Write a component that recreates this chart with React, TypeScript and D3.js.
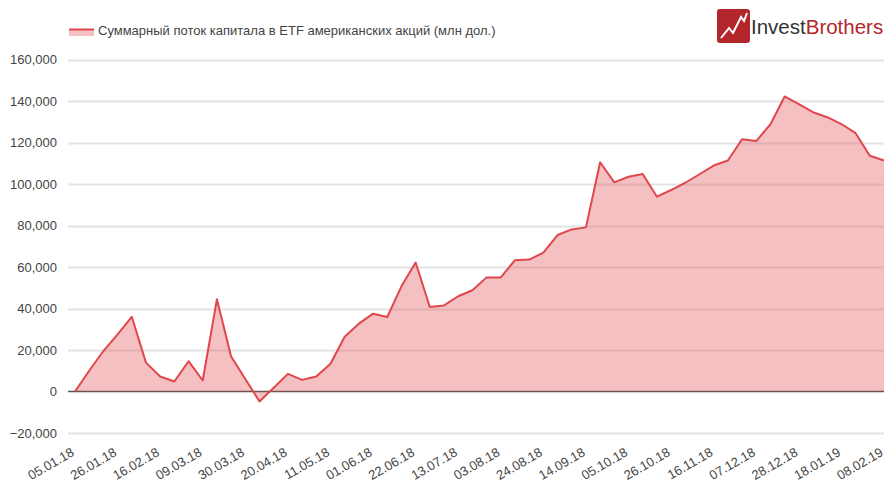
import { useEffect, useRef } from 'react';
import * as d3 from 'd3';

// weekly cumulative flows, 05.01.18 .. 08.02.19
const flows = [
  0, 10000, 19500, 27500, 36000, 13900, 7200, 4800, 14600, 5300,
  44500, 16900, 6000, -4800, 1800, 8500, 5600, 7200, 13400, 26400,
  32700, 37500, 35900, 50700, 62200, 40700, 41500, 45900, 48800, 55000,
  55000, 63300, 63600, 66900, 75400, 78100, 79100, 110500, 100800, 103500,
  104800, 93900, 97100, 100600, 104700, 108900, 111300, 121600, 120700, 128800,
  142200, 138500, 134600, 132200, 128900, 124500, 113600, 111300,
];

// one label every third week
const tickLabels = [
  '05.01.18', '26.01.18', '16.02.18', '09.03.18', '30.03.18', '20.04.18',
  '11.05.18', '01.06.18', '22.06.18', '13.07.18', '03.08.18', '24.08.18',
  '14.09.18', '05.10.18', '26.10.18', '16.11.18', '07.12.18', '28.12.18',
  '18.01.19', '08.02.19',
];

const yTicks = [-20000, 0, 20000, 40000, 60000, 80000, 100000, 120000, 140000, 160000];

const seriesName = 'Суммарный поток капитала в ETF американских акций (млн дол.)';

const W = 888;
const H = 483;
const FONT = 'Arial, "Liberation Sans", sans-serif';

export default function App() {
  const svgRef = useRef<SVGSVGElement>(null);

  useEffect(() => {
    if (!svgRef.current) return;
    const svg = d3.select(svgRef.current);
    svg.selectAll('*').remove();

    const x = d3.scaleLinear().domain([0, flows.length - 1]).range([75, 884]);
    const y = d3.scaleLinear().domain([-20000, 160000]).range([433, 59.5]);

    // grid
    svg.append('g')
      .selectAll('line')
      .data(yTicks)
      .enter()
      .append('line')
      .attr('x1', 68)
      .attr('x2', 884)
      .attr('y1', d => Math.round(y(d)) + 0.5)
      .attr('y2', d => Math.round(y(d)) + 0.5)
      .attr('stroke', d => (d === 0 ? '#555' : '#e3e3e3'))
      .attr('stroke-width', d => (d === 0 ? 1.3 : 2));

    // y labels
    svg.append('g')
      .selectAll('text')
      .data(yTicks)
      .enter()
      .append('text')
      .attr('x', 57)
      .attr('y', d => y(d) + 4.5)
      .attr('text-anchor', 'end')
      .style('font-family', FONT)
      .style('font-size', '13px')
      .style('fill', '#444')
      .text(d => d3.format(',')(d));

    // area + line
    const area = d3.area<number>()
      .x((_, i) => x(i))
      .y0(y(0))
      .y1(d => y(d));
    const line = d3.line<number>()
      .x((_, i) => x(i))
      .y(d => y(d));

    svg.append('path')
      .datum(flows)
      .attr('d', area)
      .attr('fill', '#e04a4f')
      .attr('fill-opacity', 0.35);

    svg.append('path')
      .datum(flows)
      .attr('d', line)
      .attr('fill', 'none')
      .attr('stroke', '#e0474c')
      .attr('stroke-width', 2)
      .attr('stroke-linejoin', 'round');

    // x labels
    svg.append('g')
      .selectAll('text')
      .data(tickLabels)
      .enter()
      .append('text')
      .attr('transform', (_, i) => `translate(${x(i * 3)},455) rotate(-30)`)
      .attr('text-anchor', 'end')
      .style('font-family', FONT)
      .style('font-size', '13px')
      .style('fill', '#444')
      .text(d => d);

    // legend
    const lg = svg.append('g');
    lg.append('rect')
      .attr('x', 69).attr('y', 29).attr('width', 25).attr('height', 7)
      .attr('fill', '#e04a4f').attr('fill-opacity', 0.35);
    lg.append('line')
      .attr('x1', 69).attr('x2', 94).attr('y1', 29.5).attr('y2', 29.5)
      .attr('stroke', '#e0474c').attr('stroke-width', 2);
    lg.append('text')
      .attr('x', 98).attr('y', 35)
      .style('font-family', FONT)
      .style('font-size', '13px')
      .style('fill', '#444')
      .text(seriesName);

    // logo
    const logo = svg.append('g');
    logo.append('rect')
      .attr('x', 717).attr('y', 9).attr('width', 33).attr('height', 34).attr('rx', 3)
      .attr('fill', '#b3262b');
    logo.append('polyline')
      .attr('points', '721,38 729,28 733,33 741,17 744,21 747,13')
      .attr('fill', 'none')
      .attr('stroke', '#fff')
      .attr('stroke-width', 2);
    const lt = logo.append('text')
      .attr('x', 751).attr('y', 34)
      .style('font-family', FONT)
      .style('font-size', '20.5px');
    lt.append('tspan').style('fill', '#333').text('Invest');
    lt.append('tspan').style('fill', '#b3262b').text('Brothers');
  }, []);

  return (
    <svg
      ref={svgRef}
      width={W}
      height={H}
      style={{ position: 'absolute', left: 0, top: 0, background: '#fff' }}
    />
  );
}
